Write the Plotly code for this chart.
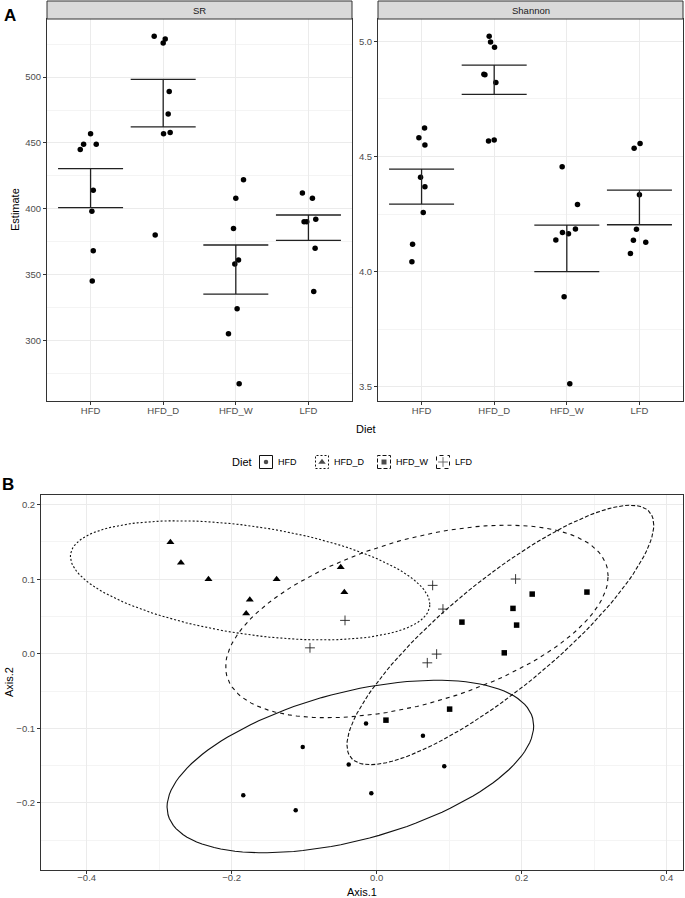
import numpy as np
import plotly.graph_objects as go

W, H = 685, 898

# ---------------- data ----------------
diets = ["HFD", "HFD_D", "HFD_W", "LFD"]

# Panel A : alpha diversity (SR = species richness, Shannon)
sr_hfd = [457, 449, 445, 449, 414, 398, 368, 345]
sr_hfd_d = [531, 529, 526, 489, 472, 457, 458, 380]
sr_hfd_w = [422, 408, 385, 361, 358, 324, 305, 267]
sr_lfd = [412, 408, 390, 390, 392, 370, 337]

sr_jit_hfd = [0.0, -0.096, -0.142, 0.078, 0.037, 0.018, 0.037, 0.023]
sr_jit_hfd_d = [-0.124, 0.028, 0.0, 0.083, 0.069, 0.005, 0.096, -0.110]
sr_jit_hfd_w = [0.106, 0.0, -0.032, 0.037, -0.014, 0.018, -0.101, 0.046]
sr_jit_lfd = [-0.083, 0.055, -0.060, -0.023, 0.101, 0.092, 0.073]

sh_hfd = [4.624, 4.582, 4.550, 4.410, 4.368, 4.257, 4.119, 4.043]
sh_hfd_d = [5.022, 4.998, 4.975, 4.857, 4.855, 4.822, 4.567, 4.572]
sh_hfd_w = [4.455, 4.291, 4.185, 4.170, 4.164, 4.137, 3.890, 3.513]
sh_lfd = [4.536, 4.556, 4.334, 4.184, 4.136, 4.127, 4.078]

sh_jit_hfd = [0.041, -0.037, 0.046, -0.014, 0.046, 0.023, -0.124, -0.133]
sh_jit_hfd_d = [-0.069, -0.050, 0.005, -0.142, -0.128, 0.023, -0.078, 0.0]
sh_jit_hfd_w = [-0.064, 0.147, 0.119, -0.060, 0.023, -0.151, -0.037, 0.041]
sh_jit_lfd = [-0.073, 0.009, 0.0, -0.041, -0.083, 0.087, -0.124]

# Panel B : ordination (Axis.1, Axis.2)
ax1_hfd = [-0.102, -0.184, -0.1117, -0.0147, 0.0638, -0.0386, 0.0932, -0.0074]
ax2_hfd = [-0.125, -0.1897, -0.210, -0.0934, -0.110, -0.1485, -0.1507, -0.187]
ax1_hfd_d = [-0.2845, -0.270, -0.232, -0.138, -0.175, -0.180, -0.0496, -0.0446]
ax2_hfd_d = [0.1495, 0.122, 0.100, 0.100, 0.0725, 0.054, 0.116, 0.0824]
ax1_hfd_w = [0.2145, 0.290, 0.188, 0.193, 0.1176, 0.176, 0.1006, 0.0128]
ax2_hfd_w = [0.0801, 0.0828, 0.0609, 0.0385, 0.0425, 0.0013, -0.0742, -0.089]
ax1_lfd = [0.0772, 0.1916, 0.0914, -0.0437, 0.0827, 0.0698, -0.092]
ax2_lfd = [0.0918, 0.1003, 0.060, 0.0448, -0.0004, -0.0121, 0.008]

sr_groups = [sr_hfd, sr_hfd_d, sr_hfd_w, sr_lfd]
sr_jits = [sr_jit_hfd, sr_jit_hfd_d, sr_jit_hfd_w, sr_jit_lfd]
sh_groups = [sh_hfd, sh_hfd_d, sh_hfd_w, sh_lfd]
sh_jits = [sh_jit_hfd, sh_jit_hfd_d, sh_jit_hfd_w, sh_jit_lfd]
ax1_groups = [ax1_hfd, ax1_hfd_d, ax1_hfd_w, ax1_lfd]
ax2_groups = [ax2_hfd, ax2_hfd_d, ax2_hfd_w, ax2_lfd]

# ---------------- styles ----------------
FONT = "Liberation Sans"
GRID = "#EBEBEB"
MINOR = "#F4F4F4"
BORDER = "#333333"
TICKC = "#4D4D4D"
symbols = ["circle", "triangle-up", "square", "cross-thin"]
msizes = [4.5, 7, 5.5, 7]
dashes = ["solid", "2px,2px", "4px,2px", "4px,4px"]


def mean_se(v):
    v = np.asarray(v, float)
    return v.mean(), v.std(ddof=1) / np.sqrt(len(v))


def cov_trob(X, nu=5, maxit=25, tol=0.01):
    n, p = X.shape
    wt = np.ones(n)
    loc = X.mean(axis=0)
    w = np.sqrt(wt)
    Xc = X - loc
    for _ in range(maxit):
        w0 = w
        Xc = X - loc
        _, d, Vt = np.linalg.svd(np.sqrt(w / w.sum())[:, None] * Xc, full_matrices=False)
        wX = Xc @ Vt.T @ np.diag(1.0 / d)
        Q = (wX ** 2).sum(axis=1)
        w = wt * (nu + p) / (nu + Q)
        loc = (w[:, None] * X).sum(axis=0) / w.sum()
        if np.all(np.abs(w - w0) < tol):
            break
    sw = np.sqrt(w)[:, None] * Xc
    return loc, sw.T @ sw / wt.sum()


def stat_ellipse(x, y, level=0.95, seg=120):
    X = np.column_stack([x, y]).astype(float)
    n = len(X)
    center, shape = cov_trob(X)
    d2 = n - 1
    qf = (d2 / 2.0) * ((1 - level) ** (-2.0 / d2) - 1)  # F quantile, dfn = 2
    radius = np.sqrt(2 * qf)
    L = np.linalg.cholesky(shape)
    a = np.linspace(0, 2 * np.pi, seg + 1)
    circ = np.column_stack([np.cos(a), np.sin(a)])
    e = center + radius * (circ @ L.T)
    return e[:, 0], e[:, 1]


fig = go.Figure()

# ---------------- Panel A ----------------
for panel, (groups, jits, xa, ya) in enumerate(
        [(sr_groups, sr_jits, "x", "y"), (sh_groups, sh_jits, "x2", "y2")]):
    for i, (vals, jit) in enumerate(zip(groups, jits)):
        fig.add_trace(go.Scatter(
            x=[i + j for j in jit], y=vals, mode="markers", xaxis=xa, yaxis=ya,
            marker=dict(color="black", size=5.5), showlegend=False, hoverinfo="skip"))
    means, ses = zip(*[mean_se(v) for v in groups])
    fig.add_trace(go.Scatter(
        x=list(range(len(diets))), y=list(means), mode="markers", xaxis=xa, yaxis=ya,
        marker=dict(color="rgba(0,0,0,0)", size=1),
        error_y=dict(type="data", array=list(ses), visible=True, color="#222222",
                     thickness=1.3, width=32.5),
        showlegend=False, hoverinfo="skip"))

# ---------------- Panel B ----------------
for i in range(4):
    ex, ey = stat_ellipse(ax1_groups[i], ax2_groups[i])
    fig.add_trace(go.Scatter(
        x=ex, y=ey, mode="lines", xaxis="x3", yaxis="y3",
        line=dict(color="#111111", width=1.1, dash=dashes[i]),
        showlegend=False, hoverinfo="skip"))
for i in range(4):
    mk = dict(color="black", size=msizes[i], symbol=symbols[i])
    if symbols[i] == "cross-thin":
        mk["line"] = dict(color="#222222", width=0.9)
    fig.add_trace(go.Scatter(
        x=ax1_groups[i], y=ax2_groups[i], mode="markers", xaxis="x3", yaxis="y3",
        marker=mk, showlegend=False, hoverinfo="skip"))

# ---------------- legend (custom, ggplot-like) ----------------
leg_y = 462
LEG_TOP, LEG_BOT = 450, 474
box_cx = [266, 322, 384, 443]
fig.add_trace(go.Scatter(
    x=box_cx, y=[leg_y] * 4, mode="markers", xaxis="x4", yaxis="y4",
    marker=dict(color="black", size=[4.5, 6.5, 5, 7], symbol=symbols,
                line=dict(color="#222222", width=[0, 0, 0, 0.9])),
    showlegend=False, hoverinfo="skip"))

shapes = []
annotations = []
for i, cx in enumerate(box_cx):
    shapes.append(dict(type="rect", xref="paper", yref="paper",
                       x0=(cx - 6.5) / W, x1=(cx + 6.5) / W,
                       y0=1 - (leg_y + 6.5) / H, y1=1 - (leg_y - 6.5) / H,
                       line=dict(color="#111111", width=1, dash=dashes[i]),
                       layer="above"))
    annotations.append(dict(text=diets[i], x=(cx + 10) / W, y=1 - leg_y / H,
                            xref="paper", yref="paper", xanchor="left", yanchor="middle",
                            showarrow=False, font=dict(size=9, color="black", family=FONT)))
annotations.append(dict(text="Diet", x=254 / W, y=1 - leg_y / H, xref="paper",
                        yref="paper", xanchor="right", yanchor="middle", showarrow=False,
                        font=dict(size=11, color="black", family=FONT)))

# strips
for label, x0, x1 in [("SR", 47, 352), ("Shannon", 378, 683)]:
    shapes.append(dict(type="rect", xref="paper", yref="paper", x0=x0 / W, x1=x1 / W,
                       y0=1 - 19 / H, y1=1 - 1 / H, fillcolor="#D9D9D9",
                       line=dict(color=BORDER, width=1)))
    annotations.append(dict(text=label, x=(x0 + x1) / 2 / W, y=1 - 10 / H, xref="paper",
                            yref="paper", showarrow=False, xanchor="center", yanchor="middle",
                            font=dict(size=9.5, color="#1A1A1A", family=FONT)))

# titles and panel tags
annotations += [
    dict(text="<b>A</b>", x=2 / W, y=1 - 15 / H, xref="paper", yref="paper", showarrow=False,
         xanchor="left", yanchor="middle", font=dict(size=17, color="black", family=FONT)),
    dict(text="<b>B</b>", x=0 / W, y=1 - 484 / H, xref="paper", yref="paper", showarrow=False,
         xanchor="left", yanchor="middle", font=dict(size=17, color="black", family=FONT)),
    dict(text="Estimate", x=15 / W, y=1 - 210 / H, xref="paper", yref="paper", showarrow=False,
         textangle=-90, xanchor="center", yanchor="middle",
         font=dict(size=11, color="black", family=FONT)),
    dict(text="Diet", x=366 / W, y=1 - 429 / H, xref="paper", yref="paper", showarrow=False,
         xanchor="center", yanchor="middle", font=dict(size=11, color="black", family=FONT)),
    dict(text="Axis.2", x=9 / W, y=1 - 682 / H, xref="paper", yref="paper", showarrow=False,
         textangle=-90, xanchor="center", yanchor="middle",
         font=dict(size=11, color="black", family=FONT)),
    dict(text="Axis.1", x=362 / W, y=1 - 892 / H, xref="paper", yref="paper", showarrow=False,
         xanchor="center", yanchor="middle", font=dict(size=11, color="black", family=FONT)),
]

axis_common = dict(showline=True, mirror=True, linecolor=BORDER, linewidth=1,
                   ticks="outside", ticklen=3, tickcolor=BORDER, tickwidth=1,
                   showgrid=True, gridcolor=GRID, gridwidth=1, zeroline=False,
                   tickfont=dict(size=9.5, color=TICKC, family=FONT))

catx = dict(axis_common, range=[-0.6, 3.6], tickmode="array",
            tickvals=list(range(4)), ticktext=diets, ticklabelstandoff=-2)

fig.update_layout(
    width=W, height=H, margin=dict(l=0, r=0, t=0, b=0),
    paper_bgcolor="white", plot_bgcolor="white",
    font=dict(family=FONT),
    xaxis=dict(catx, domain=[47 / W, 352 / W], anchor="y"),
    yaxis=dict(axis_common, domain=[1 - 401 / H, 1 - 19 / H], anchor="x",
               range=[253.8, 544.2], tickmode="linear", tick0=300, dtick=50,
               minor=dict(showgrid=True, gridcolor=MINOR, gridwidth=0.6, dtick=25, tick0=275)),
    xaxis2=dict(catx, domain=[378 / W, 683 / W], anchor="y2"),
    yaxis2=dict(axis_common, domain=[1 - 401 / H, 1 - 19 / H], anchor="x2",
                range=[3.4375, 5.0975], tickmode="linear", tick0=3.5, dtick=0.5,
                tickformat=".1f",
                minor=dict(showgrid=True, gridcolor=MINOR, gridwidth=0.6, dtick=0.25, tick0=3.25)),
    xaxis3=dict(axis_common, domain=[41 / W, 683 / W], anchor="y3",
                range=[-0.463, 0.4225], tickmode="linear", tick0=-0.4, dtick=0.2,
                tickformat=".1f", ticklabelstandoff=-4,
                minor=dict(showgrid=True, gridcolor=MINOR, gridwidth=0.6, dtick=0.1, tick0=-0.5)),
    yaxis3=dict(axis_common, domain=[1 - 870 / H, 1 - 495 / H], anchor="x3",
                range=[-0.290, 0.213], tickmode="linear", tick0=-0.2, dtick=0.1,
                tickformat=".1f",
                minor=dict(showgrid=True, gridcolor=MINOR, gridwidth=0.6, dtick=0.05, tick0=-0.25)),
    xaxis4=dict(domain=[0, 1], range=[0, W], visible=False, anchor="y4", fixedrange=True),
    yaxis4=dict(domain=[1 - LEG_BOT / H, 1 - LEG_TOP / H], range=[LEG_BOT, LEG_TOP],
                visible=False, anchor="x4", fixedrange=True),
    shapes=shapes, annotations=annotations,
)

fig.write_html("out.html", config={"displayModeBar": False},
               post_script="document.body.style.margin='0px';"
                           "document.body.style.overflow='hidden';")
